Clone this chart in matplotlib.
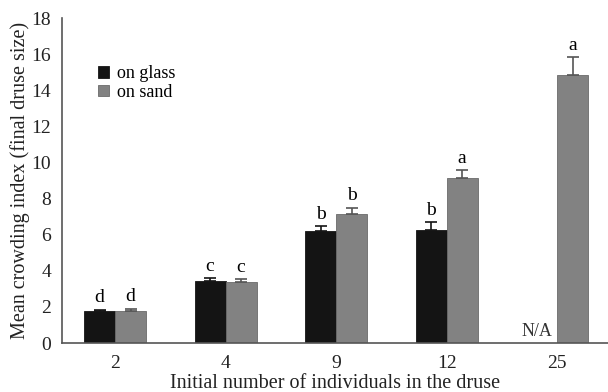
import matplotlib.pyplot as plt
import numpy as np

plt.rcParams['font.family'] = ['Liberation Serif', 'DejaVu Serif']

groups = ['2', '4', '9', '12', '25']
glass = [1.75, 3.46, 6.18, 6.28, np.nan]
glass_err = [0.10, 0.12, 0.28, 0.40, np.nan]
sand = [1.78, 3.40, 7.17, 9.15, 14.87]
sand_err = [0.10, 0.12, 0.33, 0.42, 0.95]
glass_letters = ['d', 'c', 'b', 'b', None]
sand_letters = ['d', 'c', 'b', 'a', 'a']

fig = plt.figure(figsize=(6.08, 3.92), dpi=100)
ax = fig.add_axes([0.102, 0.125, 0.898, 0.829])

x = np.arange(len(groups))
w = 0.28
glass_x = x - w / 2
sand_x = x + w / 2

ax.bar(glass_x, np.nan_to_num(glass), w, color='#141414', edgecolor='#141414',
       linewidth=0.6, label='on glass')
ax.bar(sand_x, sand, w, color='#828282', edgecolor='#6a6a6a',
       linewidth=0.6, label='on sand')

# one-sided error bars (upper only)
for xs, vals, errs, col in [(glass_x, glass, glass_err, '#141414'),
                            (sand_x, sand, sand_err, '#555555')]:
    for xi, v, e in zip(xs, vals, errs):
        if np.isnan(v):
            continue
        ax.errorbar(xi, v, yerr=[[0], [e]], fmt='none', ecolor=col,
                    elinewidth=1.2, capsize=4, capthick=1.2)

for xs, vals, errs, letters in [(glass_x, glass, glass_err, glass_letters),
                                (sand_x, sand, sand_err, sand_letters)]:
    for xi, v, e, t in zip(xs, vals, errs, letters):
        if t is None:
            continue
        ax.text(xi, v + e + 0.2, t, ha='center', va='bottom', fontsize=14)

ax.text(glass_x[4] - 0.04, 0.15, 'N/A', ha='center', va='bottom', fontsize=13,
        color='#333333')

ax.set_xlim(-0.48, 4.46)
ax.set_ylim(0, 18)
ax.set_yticks(np.arange(0, 19, 2))
ax.set_xticks(x)
ax.set_xticklabels(groups)
ax.tick_params(axis='both', length=0, labelsize=14, colors='#222222')
ax.tick_params(axis='y', pad=8)
ax.tick_params(axis='x', pad=9)

for s in ['top', 'right']:
    ax.spines[s].set_visible(False)
for s in ['left', 'bottom']:
    ax.spines[s].set_color('#555555')
    ax.spines[s].set_linewidth(1.2)

ax.set_xlabel('Initial number of individuals in the druse', fontsize=14.5,
              color='#222222', labelpad=1)
ax.set_ylabel('Mean crowding index (final druse size)', fontsize=14.5,
              color='#222222', labelpad=1)

ax.legend(loc='upper left', bbox_to_anchor=(0.037, 0.905), frameon=False,
          fontsize=13, handlelength=0.6, handleheight=0.6, handletextpad=0.4,
          labelspacing=0.1)

fig.savefig('out.png', dpi=100)
